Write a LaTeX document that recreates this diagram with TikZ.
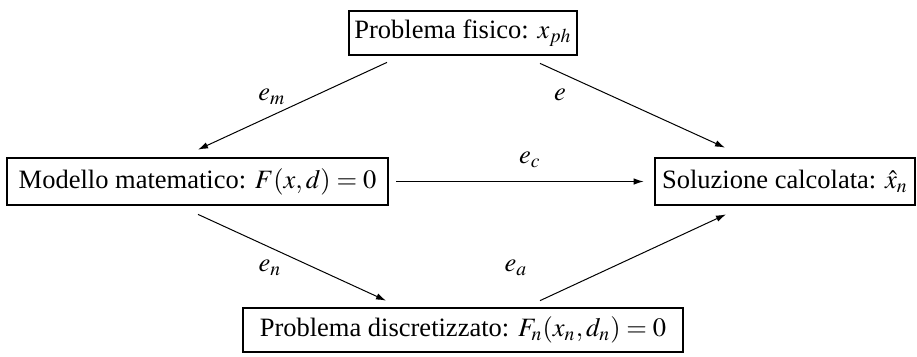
\documentclass[tikz,border=0pt]{standalone}
\usepackage{amsmath}
\usepackage{mathptmx}
\usepackage{fontspec}
\setmainfont{Liberation Serif}
\usetikzlibrary{arrows.meta,positioning,calc}
\tikzset{
  probbox/.style={draw=black, line width=1.1pt, align=center, inner sep=0pt, font=\fontsize{10.6}{12.7}\selectfont},
  arr/.style={-{Latex[length=4pt,width=2.6pt]}, line width=0.4pt, draw=black},
  lab/.style={inner sep=0pt, font=\fontsize{10.6}{12.7}\selectfont}
}

\begin{document}
\begin{tikzpicture}[x=0.4pt, y=-0.4pt]
\useasboundingbox (0,0) rectangle (917,356);
\node[probbox, minimum width=228*0.4pt, minimum height=44*0.4pt] (fis) at (463,33) {Problema fisico: $x_{ph}$};
\node[probbox, minimum width=381*0.4pt, minimum height=47*0.4pt] (mod) at (197.5,181.5) {Modello matematico: $F(x,d)=0$};
\node[probbox, minimum width=260*0.4pt, minimum height=47*0.4pt] (sol) at (785,181.5) {Soluzione calcolata: $\hat{x}_n$};
\node[probbox, minimum width=440*0.4pt, minimum height=44*0.4pt] (dis) at (463,330) {Problema discretizzato: $F_n(x_n,d_n)=0$};
% errori
\draw[arr] ([shift={(-76,6)}]fis.south) -- ([shift={(0.5,-7)}]mod.north);
\draw[arr] ([shift={(77,7)}]fis.south) -- ([shift={(-60,-9)}]sol.north);
\draw[arr] ([shift={(7,0)}]mod.east) -- ([shift={(-10,0)}]sol.west);
\draw[arr] ([shift={(0.5,8)}]mod.south) -- ([shift={(-77,-6)}]dis.north);
\draw[arr] ([shift={(77,-6)}]dis.north) -- ([shift={(-59,8)}]sol.south);
\node[lab] (em) at (272,97) {$e_m$};
\node[lab] (e) at (560,95) {$e$};
\node[lab] (ec) at (530,160) {$e_c$};
\node[lab] (en) at (270,268) {$e_n$};
\node[lab] (ea) at (516,268) {$e_a$};
\end{tikzpicture}
\end{document}
